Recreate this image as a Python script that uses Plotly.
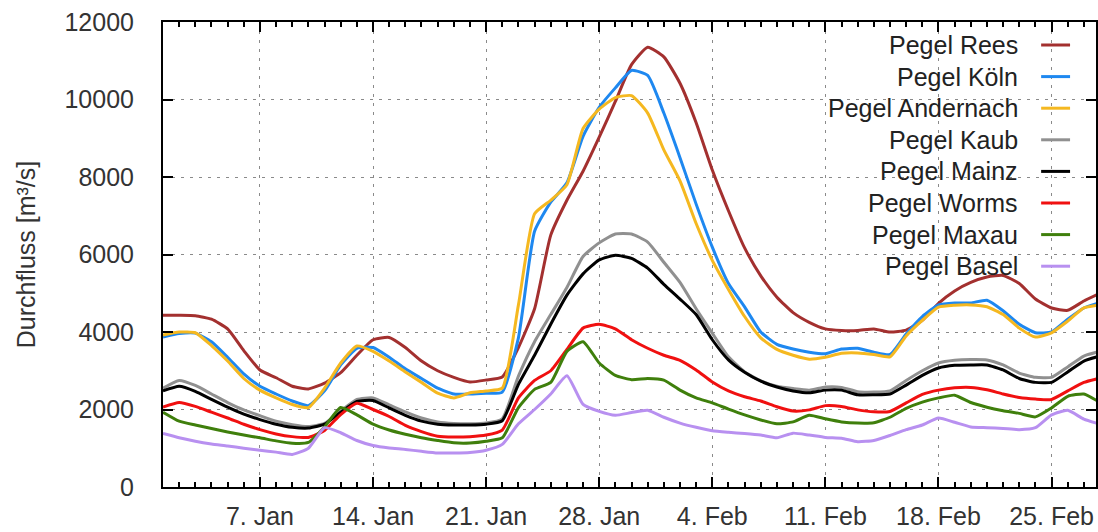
import pandas as pd
import plotly.graph_objects as go

# Daily discharge (m³/s) at the Rhine gauges, 1 Jan – 28 Feb
dates = pd.date_range("2018-01-01", "2018-02-28", freq="D")

rees = [4430, 4430, 4420, 4330, 4080, 3520, 3020, 2820, 2600, 2530,
        2680, 2950, 3400, 3800, 3860, 3600, 3250, 3000, 2830, 2710,
        2760, 2840, 3600, 4600, 6500, 7400, 8150, 9030, 9950, 10900,
        11350, 11100, 10420, 9400, 8180, 7130, 6170, 5450, 4900, 4500,
        4250, 4080, 4040, 4040, 4080, 4000, 4050, 4300, 4740, 5060,
        5280, 5420, 5460, 5250, 4850, 4620, 4560, 4800, 5000]
koeln = [3870, 3960, 3970, 3750, 3350, 2920, 2600, 2400, 2220, 2100,
         2480, 3150, 3580, 3600, 3350, 3050, 2800, 2550, 2400, 2400,
         2420, 2450, 3850, 6600, 7350, 7850, 9050, 9800, 10300, 10750,
         10620, 9650, 8500, 7300, 6190, 5250, 4650, 4000, 3680, 3560,
         3480, 3440, 3560, 3580, 3480, 3420, 3950, 4400, 4700, 4750,
         4750, 4820, 4550, 4200, 3980, 4000, 4330, 4620, 4760]
andernach = [3920, 4000, 3980, 3650, 3250, 2800, 2500, 2300, 2130, 2050,
             2550, 3200, 3640, 3500, 3250, 2970, 2700, 2420, 2300, 2430,
             2480, 2550, 4700, 7050, 7400, 7800, 9250, 9750, 10050, 10100,
             9650, 8700, 7900, 6800, 5850, 5100, 4400, 3850, 3550, 3400,
             3300, 3350, 3450, 3460, 3420, 3360, 3900, 4300, 4640, 4690,
             4700, 4650, 4450, 4100, 3870, 3980, 4280, 4620, 4700]
kaub = [2550, 2750, 2620, 2400, 2180, 1990, 1840, 1700, 1610, 1560,
        1640, 1960, 2260, 2300, 2120, 1940, 1780, 1680, 1640, 1630,
        1650, 1760, 2860, 3750, 4450, 5150, 5950, 6300, 6530, 6530,
        6320, 5800, 5280, 4600, 3970, 3360, 2970, 2740, 2600, 2540,
        2500, 2580, 2570, 2460, 2450, 2480, 2750, 3000, 3200, 3270,
        3290, 3280, 3150, 2940, 2830, 2830, 3100, 3380, 3500]
mainz = [2480, 2600, 2470, 2260, 2060, 1880, 1740, 1620, 1540, 1520,
         1620, 1930, 2210, 2230, 2040, 1850, 1700, 1620, 1600, 1600,
         1620, 1710, 2650, 3400, 4200, 4950, 5500, 5860, 5980, 5900,
         5650, 5230, 4850, 4450, 3800, 3280, 2960, 2730, 2580, 2480,
         2430, 2500, 2500, 2380, 2380, 2400, 2630, 2880, 3070, 3140,
         3150, 3150, 3020, 2800, 2700, 2700, 2970, 3250, 3380]
worms = [2060, 2180, 2080, 1930, 1780, 1620, 1480, 1370, 1300, 1280,
         1460, 1870, 2160, 2000, 1820, 1590, 1430, 1310, 1290, 1300,
         1340, 1470, 2300, 2750, 3000, 3550, 4100, 4200, 4080, 3800,
         3580, 3400, 3270, 3020, 2710, 2480, 2330, 2220, 2070, 1960,
         1990, 2100, 2080, 1990, 1940, 1950, 2170, 2390, 2500, 2560,
         2570, 2510, 2400, 2310, 2270, 2260, 2480, 2700, 2810]
maxau = [1930, 1700, 1600, 1510, 1420, 1340, 1270, 1190, 1130, 1150,
         1550, 2050, 1860, 1620, 1470, 1360, 1270, 1200, 1140, 1135,
         1180, 1270, 2050, 2520, 2700, 3500, 3750, 3200, 2880, 2770,
         2800, 2760, 2500, 2300, 2170, 2010, 1860, 1730, 1630, 1680,
         1850, 1760, 1680, 1650, 1660, 1800, 2030, 2190, 2300, 2370,
         2180, 2060, 1970, 1900, 1810, 2040, 2340, 2400, 2180]
basel = [1380, 1270, 1180, 1110, 1060, 1000, 950, 900, 840, 1000,
         1530, 1400, 1200, 1070, 1006, 970, 920, 877, 877, 890,
         950, 1100, 1630, 2000, 2400, 2870, 2130, 1950, 1850, 1920,
         1980, 1800, 1650, 1540, 1450, 1410, 1380, 1340, 1270, 1390,
         1340, 1280, 1260, 1170, 1200, 1330, 1480, 1600, 1780, 1670,
         1550, 1530, 1510, 1480, 1530, 1860, 1980, 1750, 1620]

series_names = ["Pegel Rees", "Pegel Köln", "Pegel Andernach", "Pegel Kaub",
                "Pegel Mainz", "Pegel Worms", "Pegel Maxau", "Pegel Basel"]
series_values = [rees, koeln, andernach, kaub, mainz, worms, maxau, basel]
series_colors = ["#a3302f", "#1e88f0", "#f5b820", "#909090",
                 "#000000", "#f01010", "#3f7f0c", "#b890f0"]

tick_dates = ["2018-01-07", "2018-01-14", "2018-01-21", "2018-01-28",
              "2018-02-04", "2018-02-11", "2018-02-18", "2018-02-25"]
tick_labels = ["7. Jan", "14. Jan", "21. Jan", "28. Jan",
               "4. Feb", "11. Feb", "18. Feb", "25. Feb"]

FONT = "Liberation Sans, Arial, sans-serif"

fig = go.Figure()
for name, vals, col in zip(series_names, series_values, series_colors):
    fig.add_trace(go.Scatter(
        x=dates, y=vals, name=name, mode="lines",
        line=dict(color=col, width=3, shape="spline", smoothing=0.5),
        showlegend=False,
    ))

# Key in the upper right: right-aligned names with a line sample after each
row_top_px, row_step_px = 45, 31.6
plot_top_px, plot_h_px = 22, 465
for i, (name, col) in enumerate(zip(series_names, series_colors)):
    py = 1 - (row_top_px + i * row_step_px - plot_top_px) / plot_h_px
    fig.add_annotation(
        xref="paper", yref="paper", x=0.9187, y=py,
        xanchor="right", yanchor="middle", showarrow=False,
        text=name, font=dict(family=FONT, size=25, color="#222"),
    )
    fig.add_shape(
        type="line", xref="paper", yref="paper",
        x0=0.9412, x1=0.9722, y0=py, y1=py,
        line=dict(color=col, width=3),
    )

grid_style = dict(showgrid=True, gridcolor="#8a8a8a", gridwidth=1.3,
                  griddash="3px,6px")

fig.update_xaxes(
    type="date",
    range=["2018-01-01", "2018-02-27 18:00"],
    tickmode="array", tickvals=tick_dates, ticktext=tick_labels,
    ticks="inside", ticklen=10, tickwidth=2, tickcolor="black",
    showline=True, linecolor="black", linewidth=2, mirror="allticks",
    tickfont=dict(family=FONT, size=25, color="#333"),
    ticklabelstandoff=6,
    minor=dict(ticks="inside", ticklen=5, tickwidth=1.5, tickcolor="black",
               dtick=86400000, tick0="2018-01-01", showgrid=False),
    zeroline=False,
    **grid_style,
)
fig.update_yaxes(
    range=[0, 12000], dtick=2000, tickformat="d",
    ticks="inside", ticklen=10, tickwidth=2, tickcolor="black",
    showline=True, linecolor="black", linewidth=2, mirror="ticks",
    tickfont=dict(family=FONT, size=25, color="#333"),
    ticklabelstandoff=22,
    title=dict(text="Durchfluss [m³/s]", standoff=22,
               font=dict(family=FONT, size=25, color="#333")),
    zeroline=False,
    **grid_style,
)

fig.update_layout(
    width=1098, height=532,
    margin=dict(l=163, r=0, t=22, b=45),
    plot_bgcolor="white", paper_bgcolor="white",
    showlegend=False,
)

fig.write_html("out.html")
